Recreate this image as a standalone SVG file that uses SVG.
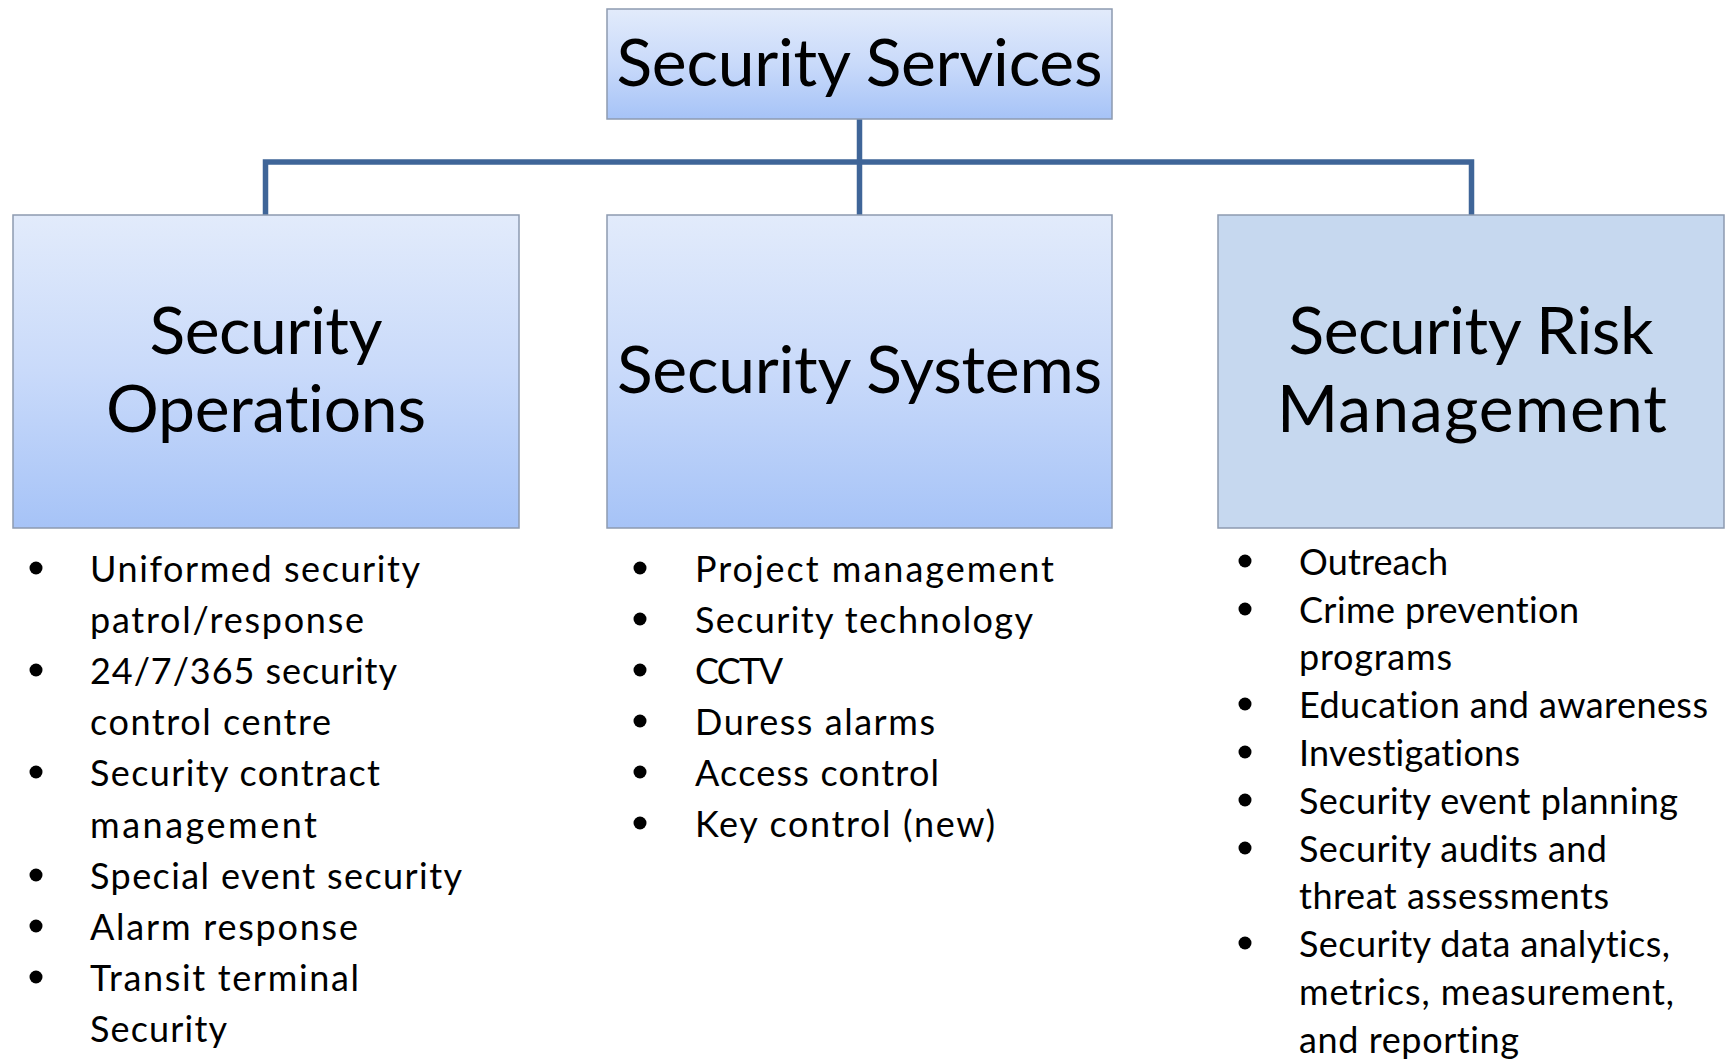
<svg xmlns="http://www.w3.org/2000/svg" width="1725" height="1059" viewBox="0 0 1725 1059">
<defs>
<linearGradient id="g" x1="0" y1="0" x2="0" y2="1">
<stop offset="0" stop-color="#e2ebfb"/>
<stop offset="0.5" stop-color="#c9dafa"/>
<stop offset="1" stop-color="#a6c3f7"/>
</linearGradient>
<style>
.box{fill:url(#g);stroke:#8d9ab0;stroke-width:1.5}
.flat{fill:#c6d8ef;stroke:#8d9ab0;stroke-width:1.5}
.t{font-family:Lato,"Open Sans","Liberation Sans",sans-serif;fill:#000;font-variant-ligatures:none;font-feature-settings:"liga" 0,"dlig" 0}
.h{font-size:66px;text-anchor:middle}
.b{font-size:36px}
.conn{fill:none;stroke:#3f6598;stroke-width:5.5}
.dot{fill:#000}
</style>
</defs>
<rect width="1725" height="1059" fill="#fff"/>
<g id="connectors">
<path class="conn" d="M859.5 119 V215 M265.5 215 V162 H1471.5 V215"/>
</g>
<g id="node-services">
<rect class="box" x="607" y="9" width="505" height="110"/>
<text class="t h" x="859.5" y="86" textLength="486">Security Services</text>
</g>
<g id="node-operations">
<rect class="box" x="13" y="215" width="506" height="313"/>
<text class="t h" x="266" y="354" textLength="233">Security</text>
<text class="t h" x="266" y="432" textLength="320">Operations</text>
</g>
<g id="node-systems">
<rect class="box" x="607" y="215" width="505" height="313"/>
<text class="t h" x="859.5" y="393" textLength="485">Security Systems</text>
</g>
<g id="node-risk">
<rect class="flat" x="1218" y="215" width="506" height="313"/>
<text class="t h" x="1471" y="354" textLength="365">Security Risk</text>
<text class="t h" x="1472" y="432" textLength="390">Management</text>
</g>
<g id="list-operations">
<circle class="dot" cx="36" cy="568" r="6.5"/>
<circle class="dot" cx="36" cy="670" r="6.5"/>
<circle class="dot" cx="36" cy="772" r="6.5"/>
<circle class="dot" cx="36" cy="875" r="6.5"/>
<circle class="dot" cx="36" cy="926" r="6.5"/>
<circle class="dot" cx="36" cy="977" r="6.5"/>
<text class="t b" x="90" y="582" textLength="330">Uniformed security</text>
<text class="t b" x="90" y="633" textLength="274">patrol/response</text>
<text class="t b" x="90" y="684" textLength="307">24/7/365 security</text>
<text class="t b" x="90" y="735" textLength="241">control centre</text>
<text class="t b" x="90" y="786" textLength="290">Security contract</text>
<text class="t b" x="90" y="838" textLength="227">management</text>
<text class="t b" x="90" y="889" textLength="372">Special event security</text>
<text class="t b" x="90" y="940" textLength="268">Alarm response</text>
<text class="t b" x="90" y="991" textLength="269">Transit terminal</text>
<text class="t b" x="90" y="1042" textLength="137">Security</text>
</g>
<g id="list-systems">
<circle class="dot" cx="640" cy="568" r="6.5"/>
<circle class="dot" cx="640" cy="619" r="6.5"/>
<circle class="dot" cx="640" cy="670" r="6.5"/>
<circle class="dot" cx="640" cy="721" r="6.5"/>
<circle class="dot" cx="640" cy="772" r="6.5"/>
<circle class="dot" cx="640" cy="823" r="6.5"/>
<text class="t b" x="695" y="582" textLength="359">Project management</text>
<text class="t b" x="695" y="633" textLength="338">Security technology</text>
<text class="t b" x="695" y="684" textLength="88">CCTV</text>
<text class="t b" x="695" y="735" textLength="240">Duress alarms</text>
<text class="t b" x="695" y="786" textLength="244">Access control</text>
<text class="t b" x="695" y="837" textLength="300">Key control (new)</text>
</g>
<g id="list-risk">
<circle class="dot" cx="1245" cy="561" r="6.5"/>
<circle class="dot" cx="1245" cy="609" r="6.5"/>
<circle class="dot" cx="1245" cy="704" r="6.5"/>
<circle class="dot" cx="1245" cy="752" r="6.5"/>
<circle class="dot" cx="1245" cy="800" r="6.5"/>
<circle class="dot" cx="1245" cy="848" r="6.5"/>
<circle class="dot" cx="1245" cy="943" r="6.5"/>
<text class="t b" x="1299" y="575" textLength="149">Outreach</text>
<text class="t b" x="1299" y="623" textLength="280">Crime prevention</text>
<text class="t b" x="1299" y="670" textLength="153">programs</text>
<text class="t b" x="1299" y="718" textLength="409">Education and awareness</text>
<text class="t b" x="1299" y="766" textLength="221">Investigations</text>
<text class="t b" x="1299" y="814" textLength="379">Security event planning</text>
<text class="t b" x="1299" y="862" textLength="308">Security audits and</text>
<text class="t b" x="1299" y="909" textLength="310">threat assessments</text>
<text class="t b" x="1299" y="957" textLength="371">Security data analytics,</text>
<text class="t b" x="1299" y="1005" textLength="375">metrics, measurement,</text>
<text class="t b" x="1299" y="1053" textLength="220">and reporting</text>
</g>
</svg>
